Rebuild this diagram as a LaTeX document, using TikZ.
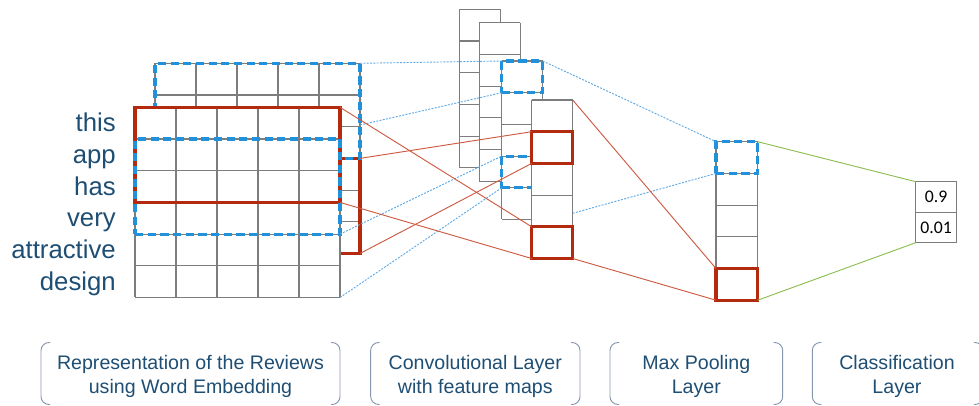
\documentclass[tikz,border=0pt]{standalone}
\usepackage{fontspec}
\setmainfont{Liberation Sans}
\newfontfamily\calib{Carlito}
\definecolor{txtblue}{RGB}{30,78,115}
\definecolor{gridgray}{RGB}{125,125,125}
\definecolor{hlred}{RGB}{180,42,15}
\definecolor{hlblue}{RGB}{33,145,220}
\definecolor{lnred}{RGB}{205,90,65}
\definecolor{lnblue}{RGB}{95,170,230}
\definecolor{lngreen}{RGB}{140,190,80}
\definecolor{brk}{RGB}{135,150,175}
\newcommand\mkgrid[7]{% name x y cols rows w h
  \node[plate, sz={#4*#6}{#5*#7}] (#1) at (#2,#3) {};
  \foreach \i in {0,...,#4} \draw[gridline] ({#2+\i*#6},#3) -- ++(0,{#5*#7});
  \foreach \j in {0,...,#5} \draw[gridline] (#2,{#3+\j*#7}) -- ++({#4*#6},0);
}
\begin{document}
\begin{tikzpicture}[x=0.75pt,y=-0.75pt,
  sz/.style 2 args={minimum width=#1*0.75pt, minimum height=#2*0.75pt},
  plate/.style={rectangle, inner sep=0pt, outer sep=0pt, anchor=north west, fill=white},
  gridline/.style={draw=gridgray, line width=0.8pt},
  redbox/.style={rectangle, inner sep=0pt, outer sep=0pt, anchor=north west, draw=hlred, line width=2.3pt},
  bluebox/.style={rectangle, inner sep=0pt, outer sep=0pt, anchor=north west, draw=hlblue, line width=2.3pt, dash pattern=on 6.2pt off 3.3pt},
  redline/.style={draw=lnred, line width=0.7pt},
  blueline/.style={draw=lnblue, line width=0.7pt, dash pattern=on 1.5pt off 1pt},
  greenline/.style={draw=lngreen, line width=0.7pt},
  wordtxt/.style={anchor=base east, text=txtblue, font=\fontsize{19.3}{23}\selectfont, inner sep=0pt},
  capt/.style={anchor=base, text=txtblue, font=\fontsize{14.7}{17}\selectfont, inner sep=0pt},
  bracket/.style={draw=brk, line width=0.7pt, rounded corners=6pt},
  outcell/.style={rectangle, inner sep=0pt, outer sep=0pt, anchor=north west, draw=gridgray, line width=0.8pt, fill=white, sz={41}{30.5}, font=\calib\fontsize{13.3}{15}\selectfont},
]
\useasboundingbox (0,0) rectangle (979,406);
\clip (0,0) rectangle (979,406);

% ---- word embedding (back sheet)
\mkgrid{embB}{155}{63.3}{5}{6}{41}{31.7}
\node[redbox, sz={205}{95.1}] (BR) at (155,158.4) {};
\node[bluebox, sz={205}{95.1}] (BB) at (155,63.3) {};
% ---- word embedding (front sheet)
\mkgrid{embF}{135}{107.3}{5}{6}{41}{31.7}
\node[redbox, sz={205}{95.1}] (FR) at (135,107.3) {};
\node[bluebox, sz={205}{95.1}] (FB) at (135,139) {};

% ---- words
\node[wordtxt] (w1) at (116,131.65) {this};
\node[wordtxt] (w2) at (116,163.35) {app};
\node[wordtxt] (w3) at (116,195.05) {has};
\node[wordtxt] (w4) at (116,226.75) {very};
\node[wordtxt] (w5) at (116,258.45) {attractive};
\node[wordtxt] (w6) at (116,290.15) {design};

% ---- feature maps
\mkgrid{map1}{459.3}{9.3}{1}{5}{41}{31.7}
\mkgrid{map2}{479.3}{22.7}{1}{5}{41}{31.7}
\mkgrid{map3}{501.7}{61}{1}{5}{41}{31.7}
\node[bluebox, sz={41}{31.7}] (M3a) at (501.7,61) {};
\node[bluebox, sz={41}{31.7}] (M3b) at (501.7,156.1) {};
\mkgrid{map4}{531.7}{100}{1}{5}{41}{31.7}
\node[redbox, sz={41}{31.7}] (M4a) at (531.7,131.7) {};
\node[redbox, sz={41}{31.7}] (M4b) at (531.7,226.8) {};

% ---- max pooling
\mkgrid{pool}{716}{141.7}{1}{5}{41.7}{31.7}
\node[bluebox, sz={41.7}{31.7}] (PB) at (716,141.7) {};
\node[redbox, sz={41.7}{31.7}] (PR) at (716,268.5) {};

% ---- classification output
\node[outcell] (o1) at (915.7,181.7) {0.9};
\node[outcell] (o2) at (915.7,212.2) {0.01};

% ---- connectors: embedding -> feature maps
\coordinate (bs2) at (360,125);
\draw[blueline] (BB.north east) -- (M3a.north west);
\draw[blueline] (bs2) -- (M3a.south west);
\draw[blueline] (FB.south east) -- (M3b.north west);
\draw[blueline] (embF.south east) -- (M3b.south west);
\draw[redline] (FR.north east) -- (M4b.north west);
\draw[redline] (FR.south east) -- (M4b.south west);
\draw[redline] (BR.north east) -- (M4a.north west);
\draw[redline] (BR.south east) -- (M4a.south west);
% ---- feature maps -> pooling
\coordinate (m4s) at (572.7,213.3);
\draw[blueline] (M3a.north east) -- (PB.north west);
\draw[blueline] (m4s) -- (PB.south west);
\draw[redline] (map4.north east) -- (PR.north west);
\draw[redline] (M4b.south east) -- (PR.south west);
% ---- pooling -> output
\draw[greenline] (PB.north east) -- (o1.north west);
\draw[greenline] (PR.south east) -- (o2.south west);

% ---- captions with brackets
\foreach \xa/\xb in {41/340, 370.7/580, 610/782.7, 812.3/983}{
  \draw[bracket] (\xa+9,342.5) -- (\xa,342.5) -- (\xa,404.5) -- (\xa+9,404.5);
  \draw[bracket] (\xb-9,342.5) -- (\xb,342.5) -- (\xb,404.5) -- (\xb-9,404.5);
}
\node[capt] (c1a) at (190.5,369.5) {Representation of the Reviews};
\node[capt] (c1b) at (190.5,393) {using Word Embedding};
\node[capt] (c2a) at (475.3,369.5) {Convolutional Layer};
\node[capt] (c2b) at (475.3,393) {with feature maps};
\node[capt] (c3a) at (696.3,369.5) {Max Pooling};
\node[capt] (c3b) at (696.3,393) {Layer};
\node[capt] (c4a) at (897,369.5) {Classification};
\node[capt] (c4b) at (897,393) {Layer};
\end{tikzpicture}
\end{document}
